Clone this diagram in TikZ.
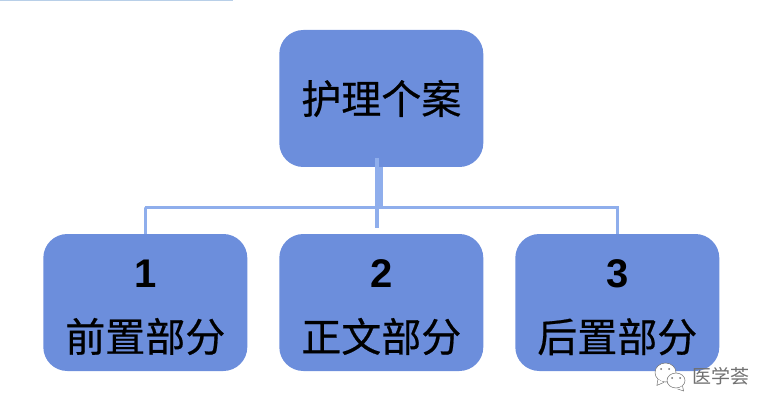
\documentclass[tikz,border=0pt]{standalone}
\usepackage{fontspec}
\setmainfont{Liberation Sans}
\newfontfamily\cjkfont[FakeBold=0.5]{Noto Sans CJK SC}
\newfontfamily\markfont{Noto Sans CJK SC}
\definecolor{boxblue}{HTML}{6C8EDC}
\definecolor{linkblue}{HTML}{8FAEEC}
\definecolor{ruleblue}{HTML}{B8CFE8}
\definecolor{markgray}{HTML}{707070}
\usetikzlibrary{positioning,shapes.geometric}

\begin{document}
\begin{tikzpicture}[x=1pt,y=1pt]
  \tikzset{BoxStyle/.style = {
    shape           = rectangle,
    rounded corners = 24pt,
    fill            = boxblue,
    text            = black,
    minimum width   = 204pt,
    minimum height  = 137pt,
    inner sep       = 0pt,
    outer sep       = 0pt,
    align           = center
    }
  }
  \tikzset{LinkStyle/.style = {
    draw       = linkblue,
    line width = 3pt
    }
  }
  \tikzset{BubbleStyle/.style = {
    shape      = ellipse,
    draw       = markgray,
    fill       = white,
    line width = 0.5pt,
    inner sep  = 0pt
    }
  }
  \newcommand{\boxtext}[2]{%
    \rule{0pt}{38pt}\fontsize{40}{64}\selectfont\textbf{#1}\\[29pt]
    \fontsize{40}{64}\selectfont\cjkfont #2}

  \useasboundingbox (0,0) rectangle (773,410);
  \fill[ruleblue] (0,409) rectangle (233,410);

  \node[BoxStyle](root) at (381.3, 311.5) {\fontsize{40}{48}\selectfont\cjkfont\raisebox{-2pt}{护理个案}};
  \node[BoxStyle](part1) at (145.3, 107.5) {\boxtext{1}{前置部分}};
  \node[BoxStyle](part2) at (381.3, 107.5) {\boxtext{2}{正文部分}};
  \node[BoxStyle](part3) at (617.3, 107.5) {\boxtext{3}{后置部分}};

  % the two branches start from slightly different points under the root
  \coordinate (trunkL) at (377, 252);
  \coordinate (trunkM) at (377, 182);
  \coordinate (trunkR) at (381, 243);
  \coordinate (busL) at (145, 202.3);
  \coordinate (busR) at (617.5, 202.7);

  \draw[LinkStyle, line width=3.5pt](trunkL) to (trunkM);
  \draw[LinkStyle](trunkL |- busL) to (busL) to (busL -| part1.south) to (part1.north);
  \draw[LinkStyle, line width=3.5pt](trunkR) to (trunkR |- busR) to (busR) to (part3.north -| busR);

  % watermark in the lower right corner
  \node[BubbleStyle, minimum width=21pt, minimum height=19pt](bubbleA) at (665.5, 37.5) {};
  \draw[markgray, fill=white, line width=0.5pt](bubbleA.south west) -- ++(-1,-6) -- ++(7,3);
  \node[BubbleStyle, minimum width=18pt, minimum height=15pt](bubbleB) at (676, 29.5) {};
  \draw[markgray, fill=white, line width=0.5pt](bubbleB.south east) -- ++(1,-5) -- ++(-6,2);
  \foreach \eyeX/\eyeY in {661/41, 669/41, 672/32, 680/32}
    \fill[markgray] (\eyeX, \eyeY) circle (1pt);
  \node[text=markgray, font=\fontsize{19}{19}\selectfont\markfont](mark) at (721, 34) {医学荟};
\end{tikzpicture}
\end{document}
